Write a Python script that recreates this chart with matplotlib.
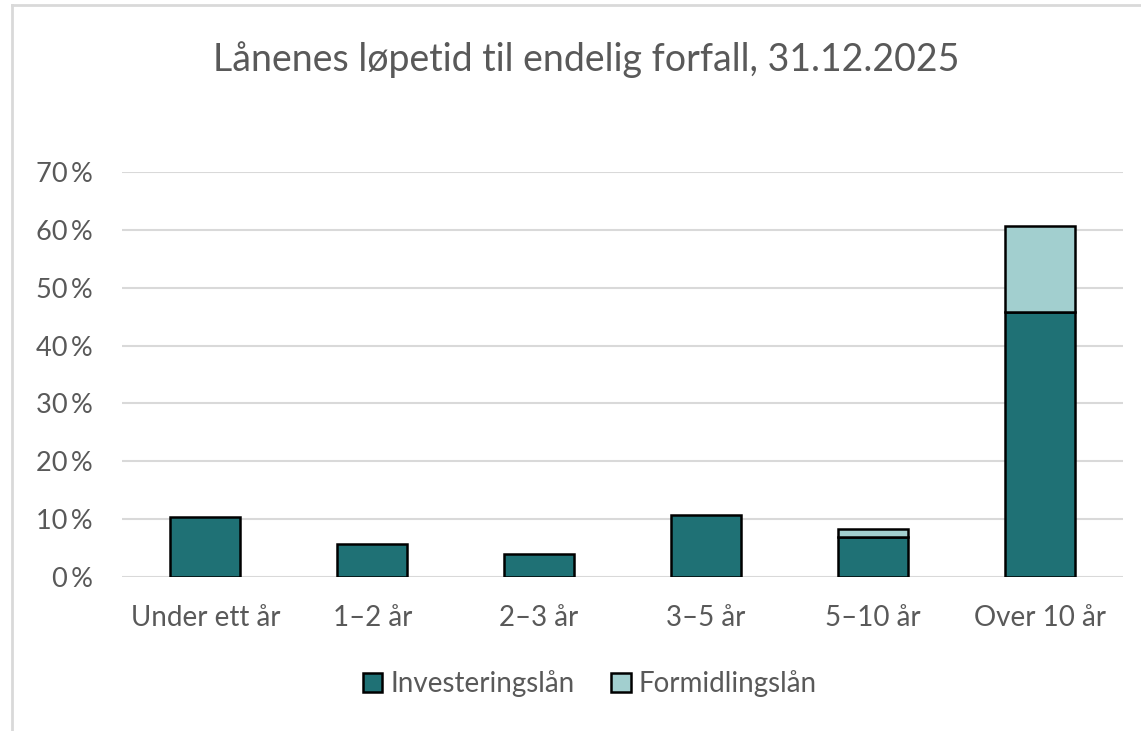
import numpy as np
import matplotlib.pyplot as plt
from matplotlib.lines import Line2D

kategorier = ["Under ett år", "1–2 år", "2–3 år", "3–5 år", "5–10 år", "Over 10 år"]
investering = [10.4, 5.7, 3.9, 10.7, 7.0, 45.8]
formidling = [0.0, 0.0, 0.0, 0.0, 1.3, 14.9]
yticks = [0, 10, 20, 30, 40, 50, 60, 70]

plt.rcParams['font.family'] = ['Lato', 'DejaVu Sans']
grå = '#595959'

fig = plt.figure(figsize=(11.41, 7.31), dpi=100)
ax = fig.add_axes([122 / 1141, 154 / 731, 1001 / 1141, 405 / 731])

x = np.arange(len(kategorier))
ax.bar(x, investering, width=0.42, color='#1F7175', edgecolor='black', linewidth=1.8,
       label='Investeringslån', zorder=3)
form = np.array(formidling)
ax.bar(x[form > 0], form[form > 0], width=0.42, bottom=np.array(investering)[form > 0],
       color='#A2CFCF', edgecolor='black', linewidth=1.8, label='Formidlingslån', zorder=3)

ax.set_xlim(-0.5, len(kategorier) - 0.5)
ax.set_ylim(0, 70)
ax.set_yticks(yticks)
ax.set_yticklabels([f"{v}\u2009%" for v in yticks])
ax.set_xticks(x)
ax.set_xticklabels(kategorier)
ax.tick_params(axis='y', length=0, pad=21, labelsize=19.5, labelcolor=grå)
ax.tick_params(axis='x', length=0, pad=20, labelsize=20, labelcolor=grå)
ax.grid(axis='y', color='#D9D9D9', linewidth=1.5, zorder=0)
for s in ax.spines.values():
    s.set_visible(False)

fig.text(586 / 1141, 1 - 60 / 731, "Lånenes løpetid til endelig forfall, 31.12.2025",
         ha='center', va='center', fontsize=27, color=grå)

handles, labels = ax.get_legend_handles_labels()
fig.legend(handles, labels, loc='center', bbox_to_anchor=(590 / 1141, 1 - 684 / 731),
           ncol=2, frameon=False, fontsize=20, labelcolor=grå, handlelength=0.7,
           handleheight=0.7, handletextpad=0.3, columnspacing=1.3)

# ramme rundt diagrammet
fig.add_artist(Line2D([12 / 1141, 1], [1 - 5 / 731, 1 - 5 / 731], color='#D9D9D9', linewidth=2))
fig.add_artist(Line2D([12 / 1141, 12 / 1141], [0, 1 - 5 / 731], color='#D9D9D9', linewidth=2))

fig.savefig('out.png', dpi=100)
